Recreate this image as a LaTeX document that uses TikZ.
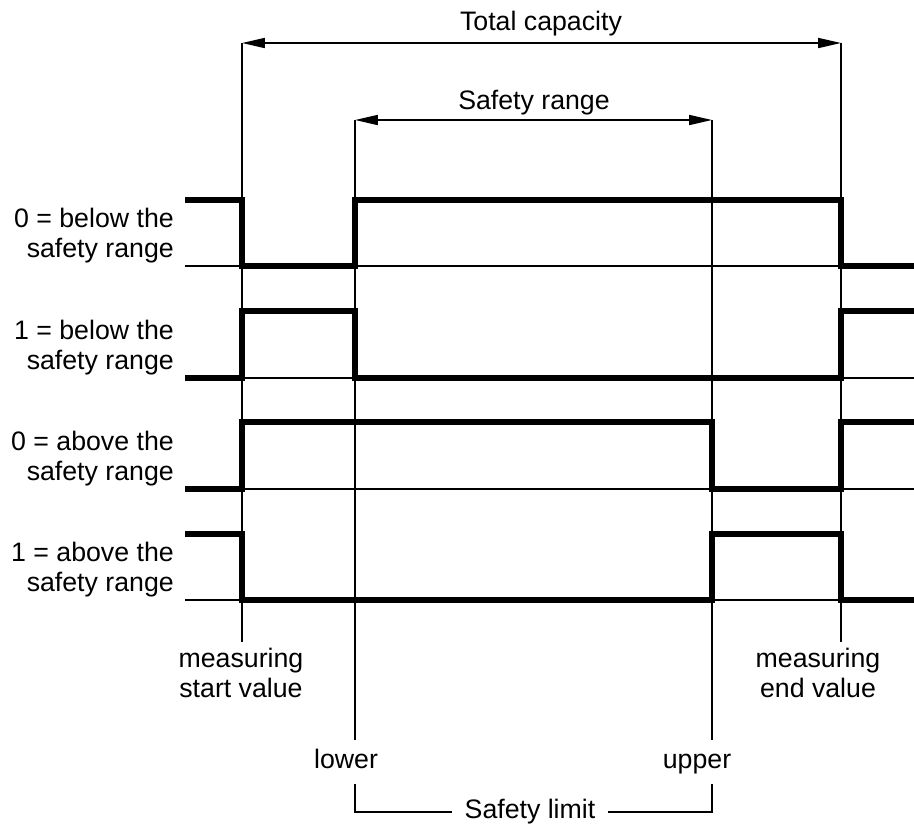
\documentclass[tikz,border=0pt]{standalone}
\usepackage{fontspec}
\setmainfont{Liberation Sans}
\usetikzlibrary{arrows.meta}

\newcommand\labelfont{\fontsize{22.8}{25.6}\selectfont}

\begin{document}
\begin{tikzpicture}[x=0.03cm,y=-0.03cm,
		guide/.style={line width=1.5pt},
		signal/.style={line width=4.3pt,line join=miter},
		span/.style={guide,{Triangle[length=19.5pt,width=8.5pt]}-{Triangle[length=19.5pt,width=8.5pt]}},
		txt/.style={font=\labelfont,inner sep=0pt},
		limitlbl/.style={txt,text height=16.5pt,text depth=4.8pt,inner sep=8pt}]
		\useasboundingbox (0,0) rectangle (914,826);
		
		% positions of the four limits
		\coordinate (start) at (242,43);
		\coordinate (end) at (841,43);
		\coordinate (lo) at (355,120);
		\coordinate (up) at (712,120);
		
		% capacity and safety range
		\node[txt] (capacity) at (541,24) {Total capacity};
		\node[txt] (range) at (534,103) {Safety range};
		\draw[span] (start) -- (end);
		\draw[span] (lo) -- (up);
		
		% baselines of the four outputs
		\draw[guide] (185,266) -- (914,266);
		\draw[guide] (185,378) -- (914,378);
		\draw[guide] (185,489) -- (914,489);
		\draw[guide] (185,600) -- (914,600);
		
		\node[txt,anchor=east,align=right] (out1) at (174,236) {0 = below the\\safety range};
		\node[txt,anchor=east,align=right] (out2) at (174,348) {1 = below the\\safety range};
		\node[txt,anchor=east,align=right] (out3) at (174,459) {0 = above the\\safety range};
		\node[txt,anchor=east,align=right] (out4) at (174,570) {1 = above the\\safety range};
		
		% switching outputs
		\draw[signal] (185,200) -| (242,266) -| (355,200) -| (841,266) -- (914,266);
		\draw[signal] (185,378) -| (242,311) -| (355,378) -| (841,311) -- (914,311);
		\draw[signal] (185,489) -| (242,422) -| (712,489) -| (841,422) -- (914,422);
		\draw[signal] (185,534) -| (242,600) -| (712,534) -| (841,600) -- (914,600);
		
		% measuring range
		\node[txt,align=center] (mstart) at (241,673) {measuring\\start value};
		\node[txt,align=center] (mend) at (818,673) {measuring\\end value};
		\draw[guide] (start) -- (start |- 0,642);
		\draw[guide] (end) -- (end |- 0,642);
		
		% safety limits
		\node[limitlbl] (lower) at (346,762) {lower};
		\node[limitlbl] (upper) at (697,762) {upper};
		\node[txt,inner xsep=11pt] (limit) at (530,812) {Safety limit};
		\draw[guide] (lo) -- (lo |- lower.north);
		\draw[guide] (up) -- (up |- upper.north);
		\draw[guide] (lo |- lower.south) |- (limit.west);
		\draw[guide] (up |- upper.south) |- (limit.east);
	\end{tikzpicture}
\end{document}
